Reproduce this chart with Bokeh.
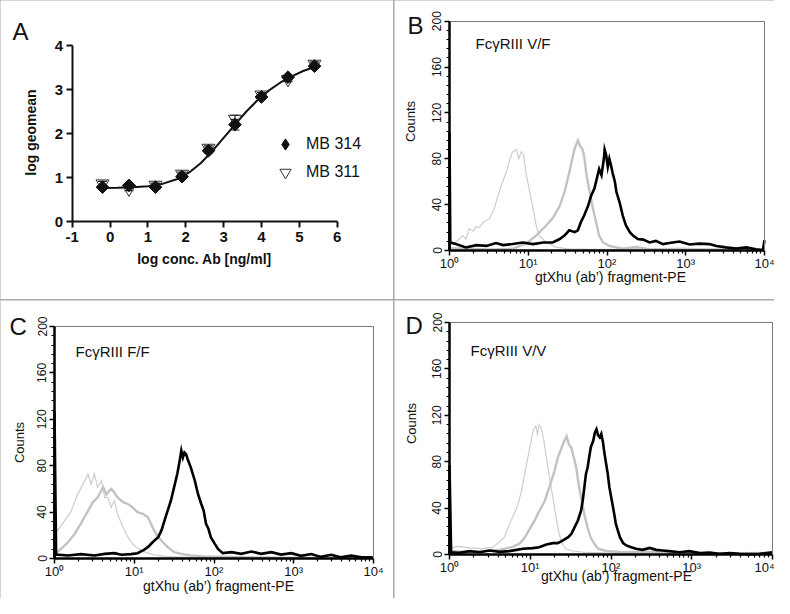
import numpy as np
from bokeh.plotting import figure
from bokeh.layouts import row, column
from bokeh.models import (Range1d, FixedTicker, Label, Legend, LegendItem, LinearAxis, LogAxis)
from bokeh.embed import file_html
from bokeh.resources import INLINE

FONT = "Liberation Sans"

# ---------------- Panel A data ----------------
A_xticks = [-1, 0, 1, 2, 3, 4, 5, 6]
A_yticks = [0, 1, 2, 3, 4]
conc_log = [-0.2, 0.5, 1.2, 1.9, 2.6, 3.3, 4.0, 4.7, 5.4]
mb314 = [0.78, 0.82, 0.78, 1.02, 1.61, 2.20, 2.83, 3.28, 3.53]
mb314_err = [0.04, 0.04, 0.03, 0.04, 0.05, 0.12, 0.05, 0.04, 0.04]
mb311 = [0.86, 0.74, 0.83, 1.08, 1.67, 2.33, 2.88, 3.23, 3.58]
mb311_err = [0.05, 0.04, 0.04, 0.04, 0.05, 0.08, 0.05, 0.05, 0.05]
fit_x = [-0.2, 0.2, 0.6, 1.0, 1.4, 1.8, 2.1, 2.4, 2.7, 3.0, 3.3, 3.6, 3.9, 4.2, 4.5, 4.8, 5.1, 5.4]
fit_y = [0.76, 0.765, 0.78, 0.80, 0.86, 0.97, 1.12, 1.33, 1.60, 1.90, 2.20, 2.50, 2.76, 2.98, 3.16, 3.30, 3.42, 3.51]

# ---------------- Histogram axes ----------------
H_xticks = [1, 10, 100, 1000, 10000]
H_xlabels = ["10\u2070", "10\u00b9", "10\u00b2", "10\u00b3", "10\u2074"]
H_yticks = [0, 40, 80, 120, 160, 200]
H_yminor = [8, 16, 24, 32, 48, 56, 64, 72, 88, 96, 104, 112, 128, 136, 144, 152, 168, 176, 184, 192]

# ---------------- Panel B (V/F) ----------------
B_iso_lg = [0.00, 0.06, 0.17, 0.21, 0.25, 0.30, 0.34, 0.38, 0.42, 0.51, 0.57, 0.63, 0.68, 0.72, 0.76, 0.80,
            0.85, 0.88, 0.91, 0.94, 0.97, 1.02, 1.06, 1.10, 1.14, 1.23, 1.35, 1.52, 1.78, 2.12, 2.54, 2.96,
            3.39, 4.00]
B_iso_ct = [9, 6, 13, 10, 19, 17, 21, 20, 24, 28, 37, 51, 61, 68, 78, 86,
            88, 80, 86, 84, 68, 51, 37, 22, 13, 7, 3, 1.5, 1, 1, 1.5, 2,
            1, 0.5]
B_ctl_lg = [0.00, 0.20, 0.50, 0.80, 0.97, 1.10, 1.23, 1.31, 1.40, 1.46, 1.50, 1.55, 1.59, 1.63, 1.66,
            1.69, 1.71, 1.74, 1.78, 1.82, 1.86, 1.90, 1.95, 2.03, 2.20, 2.37, 2.54, 3.00, 3.50, 4.00]
B_ctl_ct = [2, 1.5, 1, 1.5, 6, 13, 22, 28, 39, 51, 62, 77, 89, 96, 91,
            88, 82, 66, 51, 37, 25, 13, 7, 4, 1.5, 3, 1, 0.5, 1, 0.5]
B_ab_lg = [0.00, 0.00, 0.01, 0.08, 0.21, 0.34, 0.47, 0.59, 0.68, 0.80, 0.93, 1.06, 1.19, 1.31, 1.40,
           1.46, 1.52, 1.59, 1.63, 1.67, 1.71, 1.76, 1.80, 1.84, 1.87, 1.90, 1.93, 1.96, 1.97, 1.99,
           2.01, 2.03, 2.05, 2.07, 2.10, 2.12, 2.16, 2.20, 2.24, 2.29, 2.33, 2.39, 2.46, 2.54, 2.62,
           2.71, 2.79, 2.92, 3.05, 3.17, 3.30, 3.39, 3.51, 3.64, 3.77, 3.89, 3.98, 4.00]
B_ab_ct = [0, 103, 7, 5.6, 2.7, 4.7, 4, 6.5, 4.7, 5.6, 7, 5.6, 7, 7, 10,
           13, 17.6, 16, 17.6, 25, 30.5, 39, 48, 54, 62.5, 71, 65.7, 80, 88, 83,
           73, 80, 74.6, 68, 60, 51, 42, 30.5, 22, 16, 13, 10, 9.5, 7, 8.4,
           5.6, 6.5, 7.8, 5.3, 6, 5.6, 4, 2.7, 1.8, 2.7, 1, 0.5, 9]

# ---------------- Panel C (F/F) ----------------
C_iso_lg = [0.00, 0.01, 0.04, 0.13, 0.21, 0.29, 0.38, 0.42, 0.46, 0.50, 0.54, 0.59, 0.63, 0.67, 0.71,
            0.75, 0.79, 0.84, 0.88, 0.92, 1.00, 1.09, 1.17, 1.25, 1.38, 1.67, 2.09, 2.93, 3.99]
C_iso_ct = [200, 27, 24, 32.8, 41, 55.4, 66.9, 73, 64, 73, 61.5, 67, 52.6, 52.6, 44,
            50, 38.5, 30, 24, 18.4, 11.2, 7, 4.6, 3.2, 1.8, 1, 1, 0.5, 0.5]
C_ctl_lg = [0.00, 0.06, 0.17, 0.25, 0.33, 0.42, 0.48, 0.54, 0.61, 0.65, 0.71, 0.75, 0.79, 0.86, 0.92,
            0.98, 1.04, 1.11, 1.17, 1.21, 1.25, 1.30, 1.36, 1.42, 1.50, 1.59, 1.71, 1.88, 2.51, 3.34, 3.99]
C_ctl_ct = [3, 7, 14, 21, 30, 41, 48.5, 52.6, 61.5, 55.4, 60, 56.9, 52.6, 48.5, 47,
            44, 40, 38.5, 35.6, 30, 24, 18.4, 14, 9.8, 5.5, 4, 2.6, 1.7, 1, 0.5, 0.5]
C_ab_lg = [0.00, 0.00, 0.02, 0.17, 0.33, 0.50, 0.63, 0.75, 0.84, 0.96, 1.04, 1.11, 1.17, 1.23, 1.30,
           1.34, 1.38, 1.42, 1.46, 1.50, 1.54, 1.57, 1.59, 1.61, 1.63, 1.65, 1.67, 1.71, 1.76, 1.80,
           1.84, 1.87, 1.90, 1.93, 1.96, 2.01, 2.05, 2.11, 2.22, 2.34, 2.47, 2.59, 2.72, 2.84, 2.97,
           3.09, 3.22, 3.34, 3.47, 3.59, 3.72, 3.85, 3.99]
C_ab_ct = [0, 127, 3.5, 2.6, 3.8, 2.6, 4, 4.6, 3.2, 3.8, 4.6, 6.9, 9.8, 14, 18.4,
           24, 32.8, 41.4, 50, 61.5, 73, 84.5, 93, 87, 91.4, 90, 85.6, 78.4, 66.9, 55.4,
           47, 41.4, 29.9, 25.6, 18.4, 12.6, 8.3, 4.6, 5.5, 4, 6, 4, 5.5, 3.4, 4.6,
           2.3, 3.8, 1.4, 3.2, 1, 2.6, 1, 1]

# ---------------- Panel D (V/V) ----------------
D_iso_lg = [0.00, 0.01, 0.12, 0.25, 0.41, 0.54, 0.62, 0.68, 0.74, 0.80, 0.85, 0.89, 0.93, 0.97, 1.01,
            1.04, 1.07, 1.09, 1.11, 1.14, 1.17, 1.20, 1.24, 1.28, 1.32, 1.36, 1.40, 1.44, 1.53, 1.65,
            2.06, 2.89, 4.00]
D_iso_ct = [96, 5.7, 7, 5.7, 5, 6.3, 10.9, 14.9, 25.9, 35, 43.4, 54.6, 69, 83.3, 97.7,
            107.8, 110.6, 103.4, 112, 107.8, 97.7, 83.3, 66, 48.9, 31.6, 17.2, 8.6, 5, 3, 2,
            1, 0.5, 0.5]
D_ctl_lg = [0.00, 0.21, 0.41, 0.62, 0.78, 0.87, 0.93, 0.99, 1.05, 1.11, 1.18, 1.22, 1.26, 1.30, 1.34,
            1.38, 1.42, 1.45, 1.48, 1.51, 1.54, 1.57, 1.60, 1.63, 1.67, 1.71, 1.75, 1.80, 1.84, 1.94,
            2.15, 2.48, 2.89, 3.30, 4.00]
D_ctl_ct = [3, 2, 3, 4, 6.6, 9.5, 14.4, 21.6, 28.7, 37.3, 46, 54.6, 63.2, 71.8, 83.3,
            90.5, 97.7, 101.9, 94.8, 92, 83.3, 74.7, 60, 48.9, 34.5, 23, 14.4, 8.6, 5, 3,
            2, 2.5, 1.5, 1, 1.5]
D_ab_lg = [0.00, 0.00, 0.02, 0.12, 0.25, 0.37, 0.50, 0.62, 0.74, 0.83, 0.91, 1.03, 1.11, 1.20, 1.28,
           1.34, 1.40, 1.47, 1.51, 1.55, 1.59, 1.63, 1.65, 1.67, 1.69, 1.71, 1.73, 1.75, 1.78, 1.80,
           1.82, 1.84, 1.86, 1.88, 1.90, 1.92, 1.94, 1.96, 1.98, 2.01, 2.04, 2.06, 2.11, 2.15, 2.19,
           2.25, 2.31, 2.39, 2.48, 2.56, 2.64, 2.72, 2.85, 2.97, 3.10, 3.22, 3.34, 3.47, 3.59, 3.72,
           3.84, 4.00]
D_ab_ct = [0, 77, 2, 1.5, 2.9, 2, 3.4, 2.3, 2.9, 4, 4.9, 5.5, 6.3, 8.6, 9.8,
           9.8, 12, 14.9, 17.8, 23.6, 29.3, 38, 46.6, 58, 69.5, 75, 83.9, 92.5, 98, 105,
           108, 102.6, 101, 104, 97, 86.8, 78, 69.5, 58, 46.6, 35, 26.4, 14.9, 9.8, 7.8,
           6.3, 4.9, 4, 5.7, 4, 3.4, 2.9, 2, 2.9, 1.2, 1.7, 0.6, 1.2, 0.6, 0.3,
           0.6, 2]

ISO_COLOR, ISO_W = "#cdcdcd", 1.2
CTL_COLOR, CTL_W = "#c2c2c2", 2.4
AB_COLOR, AB_W = "#000000", 2.6
TXT = "#111111"

# ---------------- layout geometry (picture pixels) ----------------
# panel: (origin x, origin y, width, height, data-area left, right, top, bottom)
GEOM = {
    "A": (0, 0, 393, 299, 71.7, 336.7, 45, 221),
    "B": (394, 0, 380, 299, 449, 764, 20.7, 250),
    "C": (0, 300, 393, 298, 54, 373, 326, 558),
    "D": (394, 300, 380, 298, 449, 772, 322, 554),
}


def ranges_for(key, d0, d1, v0, v1, xlog=False):
    ox, oy, w, h, L, R, T, B = GEOM[key]
    L, R, T, B = L - ox, R - ox, T - oy, B - oy
    a0, a1 = (np.log10(d0), np.log10(d1)) if xlog else (d0, d1)
    sx = (R - L) / (a1 - a0)
    xs, xe = a0 - L / sx, a1 + (w - R) / sx
    if xlog:
        xs, xe = 10 ** xs, 10 ** xe
    sy = (B - T) / (v1 - v0)
    ys, ye = v0 - (h - B) / sy, v1 + T / sy
    return Range1d(xs, xe), Range1d(ys, ye)


def scr(key, px, py):
    """picture pixel -> screen coords relative to the panel's (full-canvas) frame"""
    ox, oy, w, h = GEOM[key][:4]
    return px - ox, h - (py - oy)


def make_fig(key, **kw):
    w, h = GEOM[key][2], GEOM[key][3]
    p = figure(width=w, height=h, output_backend="svg", toolbar_location=None,
               min_border=0, min_border_left=0, min_border_right=0, min_border_top=0,
               min_border_bottom=0, **kw)
    p.grid.visible = False
    p.outline_line_color = None
    p.background_fill_color = "white"
    p.border_fill_color = "white"
    return p


def add_text(p, key, txt, px, py, size, style="normal", align="left", baseline="alphabetic", angle=0.0):
    x, y = scr(key, px, py)
    p.add_layout(Label(x=x, y=y, x_units="screen", y_units="screen", text=txt, angle=angle,
                       text_font=FONT, text_font_size=size, text_font_style=style,
                       text_color=TXT, text_align=align, text_baseline=baseline))


# ---------------- Panel A ----------------
xr, yr = ranges_for("A", -1, 6, 0, 4)
pA = make_fig("A", x_range=xr, y_range=yr)
for ax in (pA.xaxis[0], pA.yaxis[0]):
    ax.axis_line_width = 2
    ax.axis_line_color = "#111111"
    ax.major_tick_line_width = 2
    ax.major_tick_line_color = "#111111"
    ax.major_tick_out = 6
    ax.major_tick_in = 0
    ax.minor_tick_line_color = None
    ax.major_label_text_font = FONT
    ax.major_label_text_font_style = "bold"
    ax.major_label_text_font_size = "15px"
    ax.major_label_text_color = TXT
pA.xaxis.ticker = FixedTicker(ticks=A_xticks)
pA.yaxis.ticker = FixedTicker(ticks=A_yticks)
pA.xaxis.major_label_overrides = {-1: "-1"}
pA.xaxis.fixed_location = 0
pA.yaxis.fixed_location = -1
pA.xaxis.bounds = (-1, 6)
pA.yaxis.bounds = (0, 4)
pA.xaxis.major_label_standoff = 4
pA.yaxis.major_label_standoff = 3

cx = np.array(conc_log)
for vals, errs in ((mb311, mb311_err), (mb314, mb314_err)):
    v = np.array(vals)
    e = np.array(errs)
    pA.segment(x0=cx, y0=v - e, x1=cx, y1=v + e, line_color="#222222", line_width=1.2)
    pA.scatter(x=np.concatenate([cx, cx]), y=np.concatenate([v - e, v + e]), marker="dash",
               size=9, line_color="#222222", line_width=1.2)
pA.line(fit_x, fit_y, line_color="#111111", line_width=2)
r311 = pA.scatter(conc_log, mb311, marker="inverted_triangle", size=13, fill_color=None,
                  line_color="#333333", line_width=1)
r314 = pA.scatter(conc_log, mb314, marker="square", angle=np.pi / 4, size=9,
                  fill_color="#111111", line_color="#111111")
# legend key for the filled diamond: legend glyphs are drawn unrotated, so use a
# zero-size diamond renderer on the same data (invisible in the plot itself)
r314_key = pA.scatter(conc_log, mb314, marker="diamond", size=0,
                      fill_color="#111111", line_color="#111111")
gx, gy = scr("A", 285 - 14, 172 + 14)
leg = Legend(items=[LegendItem(label="MB 314", renderers=[r314_key]),
                    LegendItem(label="MB 311", renderers=[r311])],
             location=(gx, gy), padding=0, margin=0, spacing=0, glyph_width=28, glyph_height=28,
             label_height=28, label_standoff=7, border_line_color=None,
             background_fill_alpha=0, label_text_font=FONT, label_text_font_size="16px",
             label_text_color=TXT)
pA.add_layout(leg)
add_text(pA, "A", "A", 12, 31, "24px")
add_text(pA, "A", "log geomean", 30, 132, "14px", "bold", "center", "middle", np.pi / 2)
add_text(pA, "A", "log conc. Ab [ng/ml]", 204, 258, "14px", "bold", "center", "middle")


# ---------------- Histogram panels ----------------
def hist_fig(key):
    xr, yr = ranges_for(key, 1, 10000, 0, 200, xlog=True)
    p = make_fig(key, x_axis_type="log", x_range=xr, y_range=yr)
    for ax in (p.xaxis[0], p.yaxis[0]):
        ax.axis_line_width = 2.5
        ax.axis_line_color = "#000000"
        ax.major_tick_line_width = 1.5
        ax.major_tick_out = 5
        ax.major_tick_in = 0
        ax.minor_tick_line_width = 1.2
        ax.minor_tick_out = 3
        ax.minor_tick_in = 0
        ax.major_label_text_font = FONT
        ax.major_label_text_color = TXT
    p.xaxis.major_label_text_font_size = "13px"
    p.yaxis.major_label_text_font_size = "12px"
    minor = [m * 10 ** d for d in range(4) for m in range(2, 10)]
    p.xaxis.ticker = FixedTicker(ticks=H_xticks, minor_ticks=minor)
    p.xaxis.major_label_overrides = {t: s for t, s in zip(H_xticks, H_xlabels)}
    p.yaxis.ticker = FixedTicker(ticks=H_yticks, minor_ticks=H_yminor)
    p.yaxis.major_label_orientation = "vertical"
    p.yaxis.major_label_standoff = 3
    p.xaxis.major_label_standoff = 0
    p.xaxis.fixed_location = 0
    p.yaxis.fixed_location = 1
    p.xaxis.bounds = (1, 10000)
    p.yaxis.bounds = (0, 200)
    # grey frame lines on top and right
    top = LogAxis(fixed_location=200, bounds=(1, 10000), ticker=FixedTicker(ticks=[]),
                  axis_line_color="#7a7a7a", axis_line_width=1,
                  major_tick_line_color=None, minor_tick_line_color=None,
                  major_label_text_alpha=0)
    right = LinearAxis(fixed_location=10000, bounds=(0, 200), ticker=FixedTicker(ticks=[]),
                       axis_line_color="#7a7a7a", axis_line_width=1,
                       major_tick_line_color=None, minor_tick_line_color=None,
                       major_label_text_alpha=0)
    p.add_layout(top, "above")
    p.add_layout(right, "right")
    return p


def draw_curves(p, iso, ctl, ab):
    for (lg, ct), col, lw in ((iso, ISO_COLOR, ISO_W), (ctl, CTL_COLOR, CTL_W), (ab, AB_COLOR, AB_W)):
        p.line(10 ** np.array(lg), ct, line_color=col, line_width=lw, line_join="miter")


XLABEL = "gtXhu (ab\u2019) fragment-PE"

pB = hist_fig("B")
draw_curves(pB, (B_iso_lg, B_iso_ct), (B_ctl_lg, B_ctl_ct), (B_ab_lg, B_ab_ct))
add_text(pB, "B", "Fc\u03b3RIII  V/F", 475, 43, "15px")
add_text(pB, "B", "B", 407, 25, "24px")
add_text(pB, "B", "Counts", 410, 121, "13px", "normal", "center", "middle", np.pi / 2)
add_text(pB, "B", XLABEL, 610, 276, "14px", "normal", "center", "middle")

pC = hist_fig("C")
draw_curves(pC, (C_iso_lg, C_iso_ct), (C_ctl_lg, C_ctl_ct), (C_ab_lg, C_ab_ct))
add_text(pC, "C", "Fc\u03b3RIII  F/F", 75, 351, "15px")
add_text(pC, "C", "C", 9, 326, "24px")
add_text(pC, "C", "Counts", 19, 442, "13px", "normal", "center", "middle", np.pi / 2)
add_text(pC, "C", XLABEL, 218, 585, "14px", "normal", "center", "middle")

pD = hist_fig("D")
draw_curves(pD, (D_iso_lg, D_iso_ct), (D_ctl_lg, D_ctl_ct), (D_ab_lg, D_ab_ct))
add_text(pD, "D", "Fc\u03b3RIII  V/V", 470, 350, "15px")
add_text(pD, "D", "D", 405, 325, "24px")
add_text(pD, "D", "Counts", 411, 423, "13px", "normal", "center", "middle", np.pi / 2)
add_text(pD, "D", XLABEL, 616, 575, "14px", "normal", "center", "middle")

layout = column(row(pA, pB, spacing=1), row(pC, pD, spacing=1), spacing=1,
                styles={"background-color": "#a9a9a9"})

open("out.html", "w").write(file_html(layout, INLINE))
